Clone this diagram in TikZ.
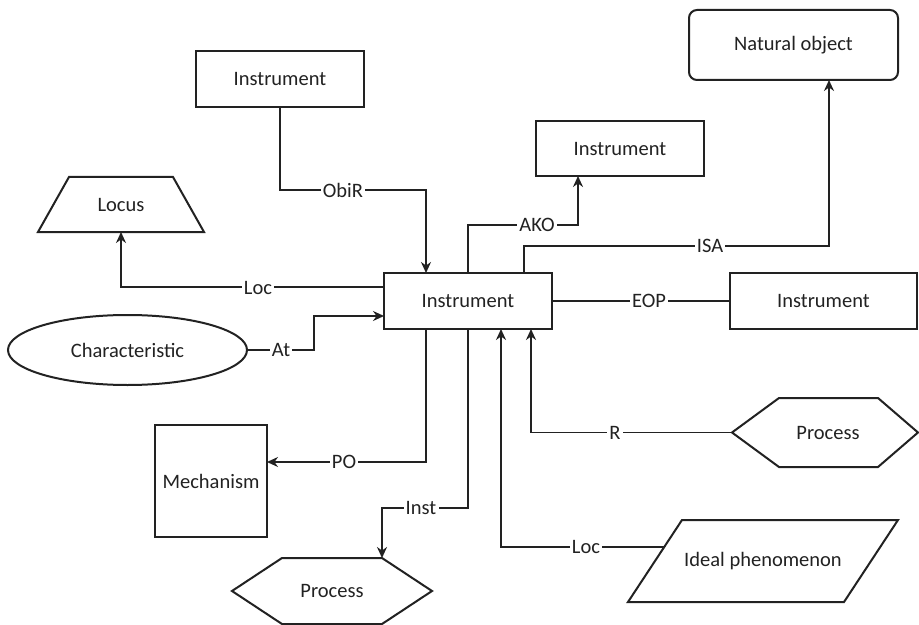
\documentclass[tikz,border=0pt]{standalone}
\usepackage{fontspec}
\setmainfont{Carlito}
\usetikzlibrary{arrows.meta,calc,shapes.geometric}
\definecolor{ink}{HTML}{222222}
\begin{document}
\begin{tikzpicture}[x=1bp,y=-1bp,
  every node/.style={font=\fontsize{20.5bp}{24bp}\selectfont, text=ink},
  box/.style={draw=ink,line width=2bp,minimum width=168bp,minimum height=56bp,inner sep=0pt,outer sep=0pt},
  frame/.style={inner sep=0pt,outer sep=0pt},
  shp/.style={draw=ink,line width=2bp,line join=miter},
  conn/.style={draw=ink,line width=1.8bp},
  thinconn/.style={draw=ink,line width=1.2bp},
  arr/.style={-{Stealth[length=11bp,width=10bp]}},
  lab/.style={fill=white,inner sep=2.2bp}
]
\clip (0,0) rectangle (919,625);
\fill[white] (0,0) rectangle (919,625);

% ---------- nodes ----------
\node[box] (top) at (280,79) {Instrument};
\node[box,rounded corners=8bp,minimum width=209bp,minimum height=70bp] (nat) at (793.5,45) {Natural object};
\node[box,minimum height=55bp] (ako) at (620,148.5) {Instrument};
\node[box] (cen) at (468,301) {Instrument};
\node[box,minimum width=187bp] (rin) at (823.5,301) {Instrument};
\node[box,minimum width=112bp,minimum height=112bp] (mech) at (211,481) {Mechanism};
\node[ellipse,draw=ink,line width=2bp,minimum width=239bp,minimum height=70bp,inner sep=0pt,outer sep=0pt] (char) at (127.5,350) {Characteristic};

\node[frame,minimum width=166bp,minimum height=55bp] (locus) at (121,204.5) {Locus};
\draw[shp] (locus.south west) -- (locus.south east) -- ($(locus.north east)+(-31,0)$) -- ($(locus.north west)+(31,0)$) -- cycle;

\node[frame,minimum width=200bp,minimum height=66bp] (bproc) at (332,591) {Process};
\draw[shp] (bproc.west) -- ($(bproc.north west)+(50,0)$) -- ($(bproc.north east)+(-50,0)$) -- (bproc.east) -- ($(bproc.south east)+(-50,0)$) -- ($(bproc.south west)+(50,0)$) -- cycle;

\node[frame,minimum width=186bp,minimum height=69bp] (rproc) at (825,432.5) {\hspace*{6bp}Process};
\draw[shp] (rproc.west) -- ($(rproc.north west)+(47,0)$) -- ($(rproc.north east)+(-40,0)$) -- (rproc.east) -- ($(rproc.south east)+(-40,0)$) -- ($(rproc.south west)+(47,0)$) -- cycle;

\node[frame,minimum width=270bp,minimum height=82bp] (ideal) at (763,561) {Ideal phenomenon};
\draw[shp] (ideal.south west) -- ($(ideal.north west)+(54,0)$) -- (ideal.north east) -- ($(ideal.south east)+(-54,0)$) -- cycle;

% ---------- connectors ----------
\draw[conn,arr] (top.south) |- ($(cen.north)+(-42,-83)$) -- ($(cen.north)+(-42,0)$);
\draw[conn,arr] (cen.north) |- ($(ako.south)+(-42,49)$) -- ($(ako.south)+(-42,0)$);
\draw[conn,arr] ($(cen.north)+(56,0)$) |- ($(nat.south)+(35.5,166)$) -- ($(nat.south)+(35.5,0)$);
\draw[thinconn] (cen.east) -- (rin.west);
\draw[conn,arr] ($(cen.west)+(0,-14)$) -| (locus.south);
\draw[conn,arr] (char.east) -- ++(67,0) |- ($(cen.west)+(0,15)$);
\draw[conn,arr] ($(cen.south)+(-42,0)$) |- ($(mech.east)+(0,-19)$);
\draw[conn,arr] (cen.south) |- ($(bproc.north)+(50,-50)$) -- ($(bproc.north)+(50,0)$);
\draw[conn,arr] ($(ideal.west)+(36,-14)$) -| ($(cen.south)+(33,0)$);
\draw[conn,arr] (rproc.west) -| ($(cen.south)+(63,0)$);

% ---------- labels ----------
\node[lab] (lobir) at (343,190) {ObiR};
\node[lab] (lako) at (537,225) {AKO};
\node[lab] (lisa) at (710,246) {ISA};
\node[lab] (leop) at (649,301) {EOP};
\node[lab] (lloc1) at (258,288) {Loc};
\node[lab] (lat) at (281,350) {At};
\node[lab] (lpo) at (344,462) {PO};
\node[lab] (linst) at (421,508) {Inst};
\node[lab] (lloc2) at (586,547) {Loc};
\node[lab] (lr) at (615,432.5) {R};
\end{tikzpicture}
\end{document}
